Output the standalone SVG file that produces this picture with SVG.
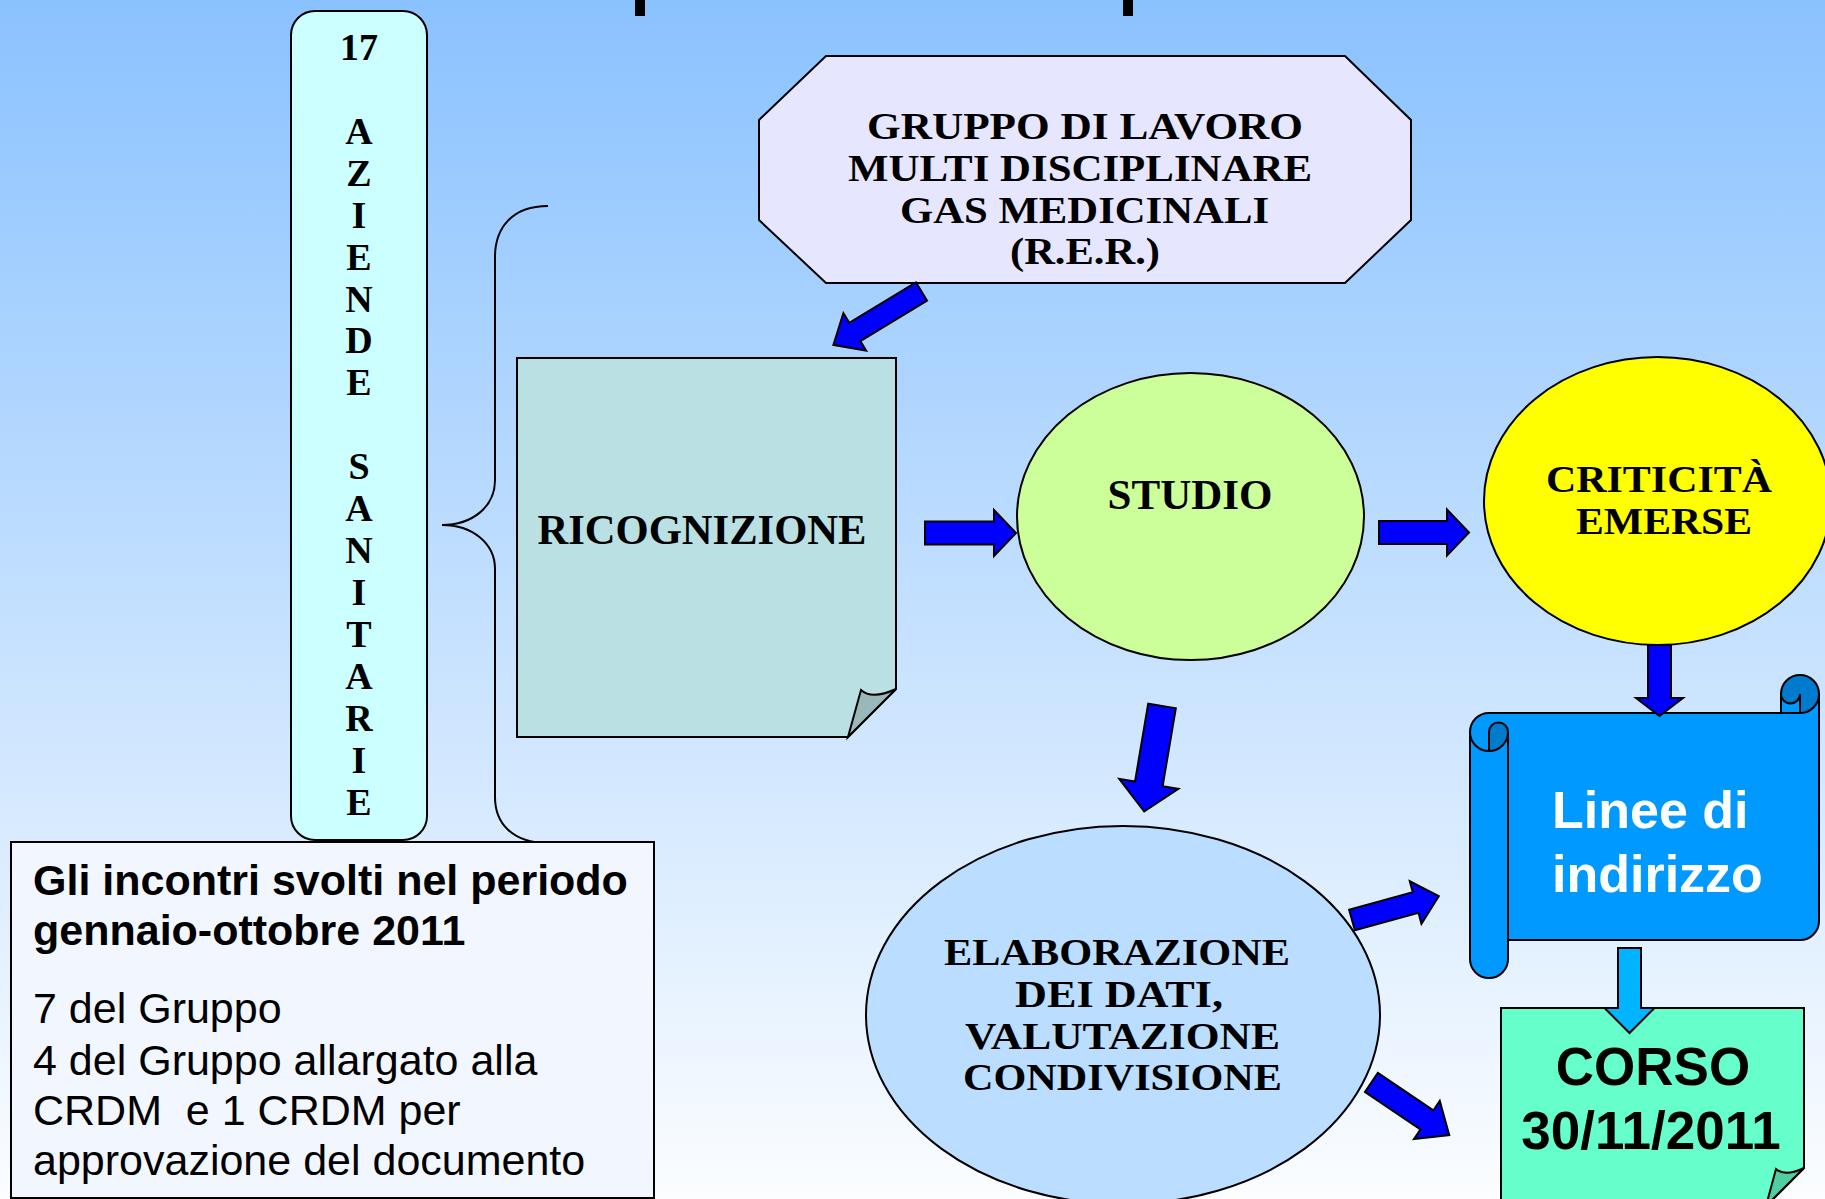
<svg xmlns="http://www.w3.org/2000/svg" width="1825" height="1199" viewBox="0 0 1825 1199">
<defs>
<linearGradient id="bg" x1="0" y1="0" x2="0" y2="1">
<stop offset="0" stop-color="#8AC2FF"/>
<stop offset="1" stop-color="#FBFDFF"/>
</linearGradient>
<style>
.sh{stroke:#000;stroke-width:2}
.ser{font-family:"Liberation Serif","Times New Roman",serif;font-weight:bold;fill:#000}
.san{font-family:"Liberation Sans",Arial,sans-serif;fill:#000}
.arr{fill:#0000FF;stroke:#000;stroke-width:2;stroke-linejoin:miter}
.arrl{fill:#00B4FF;stroke:#000;stroke-width:2}
</style>
</defs>
<rect x="0" y="0" width="1825" height="1199" fill="url(#bg)"/>
<rect x="635" y="0" width="10" height="16" fill="#000"/>
<rect x="1123" y="0" width="10" height="16" fill="#000"/>

<g id="aziende">
<rect class="sh" x="291" y="11" width="136" height="829" rx="24" ry="24" fill="#CCFFFF"/>
<text class="ser" font-size="38" text-anchor="middle"><tspan x="359" y="60">17</tspan><tspan x="359" y="144">A</tspan><tspan x="359" y="186">Z</tspan><tspan x="359" y="228">I</tspan><tspan x="359" y="270">E</tspan><tspan x="359" y="312">N</tspan><tspan x="359" y="353">D</tspan><tspan x="359" y="395">E</tspan><tspan x="359" y="479">S</tspan><tspan x="359" y="521">A</tspan><tspan x="359" y="563">N</tspan><tspan x="359" y="605">I</tspan><tspan x="359" y="647">T</tspan><tspan x="359" y="689">A</tspan><tspan x="359" y="731">R</tspan><tspan x="359" y="773">I</tspan><tspan x="359" y="815">E</tspan></text>
</g>

<g id="brace">
<path d="M548,206 C512,206 495,228 495,257 L495,480 C495,507 472,525 442,525 C472,525 495,543 495,569 L495,797 C495,823 512,843 548,843" fill="none" stroke="#000" stroke-width="2"/>
</g>

<g id="info">
<rect class="sh" x="11" y="842" width="643" height="356" fill="#F2F7FF"/>
<text class="san" font-size="43" font-weight="bold"><tspan x="33" y="895">Gli incontri svolti nel periodo</tspan><tspan x="33" y="945">gennaio-ottobre 2011</tspan></text>
<text class="san" font-size="43" xml:space="preserve"><tspan x="33" y="1023">7 del Gruppo</tspan><tspan x="33" y="1075">4 del Gruppo allargato alla</tspan><tspan x="33" y="1125">CRDM  e 1 CRDM per</tspan><tspan x="33" y="1175">approvazione del documento</tspan></text>
</g>

<g id="gruppo">
<polygon class="sh" points="826,56 1345,56 1411,120 1411,220 1345,283 826,283 759,220 759,120" fill="#E6E6FF"/>
<g class="ser" font-size="38" lengthAdjust="spacingAndGlyphs">
<text x="867" y="139" textLength="436" lengthAdjust="spacingAndGlyphs">GRUPPO DI LAVORO</text>
<text x="848" y="181" textLength="464" lengthAdjust="spacingAndGlyphs">MULTI DISCIPLINARE</text>
<text x="900" y="223" textLength="369" lengthAdjust="spacingAndGlyphs">GAS MEDICINALI</text>
<text x="1010" y="264" textLength="150" lengthAdjust="spacingAndGlyphs">(R.E.R.)</text>
</g>
</g>

<g id="ricognizione">
<path class="sh" d="M517,358 L896,358 L896,689 L848,737 L517,737 Z" fill="#BAE0E3"/>
<path class="sh" d="M848,737 L861,690 Q872,700 896,689 Z" fill="#9AB8BA"/>
<text class="ser" x="702" y="544" font-size="42.6" text-anchor="middle">RICOGNIZIONE</text>
</g>

<g id="studio">
<ellipse class="sh" cx="1190.5" cy="516.5" rx="173.5" ry="143.5" fill="#CCFF99"/>
<text class="ser" x="1190" y="509" font-size="43" text-anchor="middle">STUDIO</text>
</g>

<g id="criticita">
<ellipse class="sh" cx="1657.5" cy="501" rx="173.5" ry="144" fill="#FFFF00"/>
<text class="ser" x="1546" y="492" font-size="38" textLength="226" lengthAdjust="spacingAndGlyphs">CRITICITÀ</text>
<text class="ser" x="1576" y="534" font-size="38" textLength="176" lengthAdjust="spacingAndGlyphs">EMERSE</text>
</g>

<g id="elaborazione">
<ellipse class="sh" cx="1123" cy="1015" rx="257" ry="189" fill="#BBDDFF"/>
<text class="ser" x="944" y="965" font-size="38" textLength="346" lengthAdjust="spacingAndGlyphs">ELABORAZIONE</text>
<text class="ser" x="1015" y="1007" font-size="38" textLength="208" lengthAdjust="spacingAndGlyphs">DEI DATI,</text>
<text class="ser" x="965" y="1049" font-size="38" textLength="315" lengthAdjust="spacingAndGlyphs">VALUTAZIONE</text>
<text class="ser" x="963" y="1090" font-size="38" textLength="319" lengthAdjust="spacingAndGlyphs">CONDIVISIONE</text>
</g>

<g id="linee">
<path d="M1819,694 A19,19 0 0 1 1800,713 L1800,694 A9.5,9.5 0 0 1 1781,694 L1781,713 L1489,713 A19,19 0 0 0 1470,732 L1470,959 A19,19 0 0 0 1508,959 L1508,940 L1800,940 A19,19 0 0 0 1819,921 Z M1489,751 A19,19 0 0 0 1508,732 A9.5,9.5 0 0 0 1489,732 Z" fill="#0099FF"/>
<path d="M1489,751 A19,19 0 0 0 1508,732 A9.5,9.5 0 0 0 1489,732 Z M1800,713 A19,19 0 1 0 1781,694 A9.5,9.5 0 0 0 1800,694 Z" fill="#007ACC"/>
<path d="M1470,732 A19,19 0 0 1 1489,713 L1781,713 L1781,694 A19,19 0 0 1 1819,694 L1819,921 A19,19 0 0 1 1800,940 L1508,940 L1508,959 A19,19 0 0 1 1470,959 Z M1781,713 L1800,713 A19,19 0 0 0 1819,694 M1800,713 L1800,694 A9.5,9.5 0 0 1 1781,694 M1489,751 L1489,732 A9.5,9.5 0 0 1 1508,732 A19,19 0 0 1 1470,732 M1508,732 L1508,940" fill="none" stroke="#000" stroke-width="2"/>
<text class="san" font-size="52" font-weight="bold" style="fill:#FFFFFF"><tspan x="1552" y="828">Linee di</tspan><tspan x="1552" y="892">indirizzo</tspan></text>
</g>

<g id="corso">
<path class="sh" d="M1501,1008 L1804,1008 L1804,1168 L1766,1206 L1501,1206 Z" fill="#66FFCC"/>
<path class="sh" d="M1766,1206 L1776,1169 Q1785,1177 1804,1168 Z" fill="#52CCA3"/>
<text class="san" font-size="53" font-weight="bold" text-anchor="middle"><tspan x="1653" y="1085">CORSO</tspan><tspan x="1651" y="1149">30/11/2011</tspan></text>
</g>

<g id="connectors">
<polygon class="arr" transform="translate(921.5,291.5) rotate(148.8)" points="0,-10.7 78,-10.7 78,-22 103,0 78,22 78,10.7 0,10.7"/>
<polygon class="arr" transform="translate(925,533)" points="0,-11.5 69,-11.5 69,-23 91,0 69,23 69,11.5 0,11.5"/>
<polygon class="arr" transform="translate(1379,532.5)" points="0,-11.5 68,-11.5 68,-23 90,0 68,23 68,11.5 0,11.5"/>
<polygon class="arr" transform="translate(1162,706) rotate(99.6)" points="0,-14 79,-14 79,-30 107,0 79,30 79,14 0,14"/>
<polygon class="arr" transform="translate(1352,920) rotate(-15.4)" points="0,-10.7 66,-10.7 66,-22 90,0 66,22 66,10.7 0,10.7"/>
<polygon class="arr" transform="translate(1371.4,1082.4) rotate(34.1)" points="0,-11.5 67,-11.5 67,-23 94,0 67,23 67,11.5 0,11.5"/>
<polygon class="arr" transform="translate(1659.5,645) rotate(90)" points="0,-11.5 53,-11.5 53,-23.5 71,0 53,23.5 53,11.5 0,11.5"/>
<polygon class="arrl" transform="translate(1629.5,948) rotate(90)" points="0,-11.5 60,-11.5 60,-25 85,0 60,25 60,11.5 0,11.5"/>
</g>
</svg>
